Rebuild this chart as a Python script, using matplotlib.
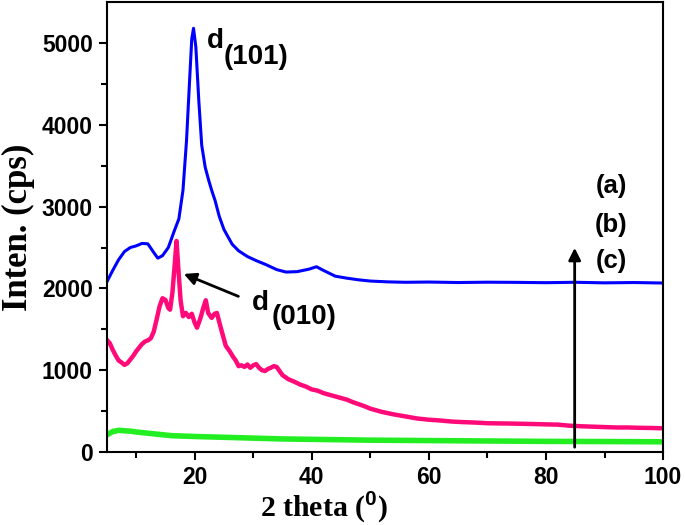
import matplotlib
matplotlib.use("Agg")
import matplotlib.pyplot as plt

# curve (a) - blue
xa = [5, 6, 7, 8, 9, 10, 11, 12, 13, 13.7, 14.5, 15.5, 16.5, 17.3, 18, 18.6, 19.1, 19.5, 19.8,
      20.2, 20.7, 21.2, 21.8, 22.4, 22.9, 23.5, 24.2, 25, 26.4, 27.5, 29, 30.5, 32.2, 34, 35.6,
      37.5, 39.5, 40.8, 42, 44, 46, 48, 50, 53, 56, 60, 65, 70, 75, 80, 85, 90, 95, 100]
ya = [2080, 2220, 2350, 2450, 2500, 2520, 2550, 2545, 2440, 2370, 2400, 2500, 2700, 2850, 3200,
      3800, 4500, 5050, 5180, 4950, 4300, 3750, 3480, 3320, 3200, 3070, 2880, 2720, 2540, 2460,
      2390, 2340, 2290, 2230, 2200, 2205, 2235, 2265, 2220, 2150, 2125, 2105, 2090, 2080, 2075,
      2078, 2072, 2076, 2074, 2070, 2075, 2068, 2072, 2066]

# curve (b) - pink
xb = [5, 5.5, 6, 6.5, 7, 7.5, 8, 8.5, 9, 9.5, 10, 10.5, 11, 11.5, 12, 12.5, 13, 13.5, 14, 14.5,
      15, 15.5, 15.8, 16.2, 16.6, 16.9, 17.2, 17.6, 18, 18.5, 19, 19.5, 20, 20.4, 21, 21.5, 21.9,
      22.3, 22.9, 23.4, 23.8, 24.3, 24.8, 25.3, 26, 26.5, 27, 27.5, 28, 28.5, 29, 29.5, 30, 30.5,
      31, 31.5, 32, 32.5, 33, 33.5, 34, 34.5, 35, 36, 37, 38, 39, 40, 41, 42, 43, 44, 45, 46, 47,
      48, 49, 50, 51, 52, 54, 56, 58, 60, 62, 64, 66, 68, 70, 72, 74, 76, 78, 80, 82, 84, 86, 88,
      90, 92, 94, 96, 98, 100]
yb = [1370, 1330, 1250, 1180, 1120, 1095, 1065, 1085, 1130, 1175, 1230, 1275, 1320, 1350, 1365,
      1390, 1470, 1620, 1780, 1880, 1860, 1760, 1740, 1950, 2300, 2580, 2250, 1850, 1660, 1700,
      1650, 1690, 1580, 1520, 1640, 1770, 1855, 1700, 1640, 1690, 1700, 1560, 1430, 1300, 1230,
      1170, 1120, 1050, 1060, 1040, 1070, 1030, 1060, 1075, 1030, 1000, 990, 1015, 1030, 1050,
      1040, 990, 940, 890, 860, 825, 800, 765, 750, 720, 700, 680, 660, 640, 610, 585, 560, 530,
      510, 490, 460, 435, 410, 395, 385, 372, 365, 360, 352, 350, 348, 345, 342, 338, 335, 322,
      315, 310, 305, 300, 300, 296, 294, 290]

# curve (c) - green
xc = [5, 6, 7, 8, 9, 10, 12, 14, 16, 20, 25, 30, 35, 40, 50, 60, 70, 80, 90, 100]
yc = [210, 250, 265, 260, 255, 245, 230, 215, 200, 190, 180, 170, 160, 155, 145, 140, 135, 130, 128, 125]

xticks = [20, 40, 60, 80, 100]
yticks = [0, 1000, 2000, 3000, 4000, 5000]

plt.rcParams["mathtext.fontset"] = "custom"
plt.rcParams["mathtext.bf"] = "Liberation Sans:bold"
plt.rcParams["mathtext.rm"] = "Liberation Sans:bold"

fig = plt.figure(figsize=(6.85, 5.25), dpi=100)
ax = fig.add_axes([0.156, 0.139, 0.812, 0.857])

ax.plot(xc, yc, color="#22ee22", lw=4)
ax.plot(xb, yb, color="#ff0a78", lw=3.2)
ax.plot(xa, ya, color="#0000ff", lw=2.2)

ax.set_xlim(5, 100)
ax.set_ylim(0, 5500)
ax.set_xticks(xticks)
ax.set_xticks([10, 30, 50, 70, 90], minor=True)
ax.set_yticks(yticks)
ax.set_yticks([500, 1500, 2500, 3500, 4500], minor=True)
ax.tick_params(which="both", direction="out", width=1.5, top=False, right=False)
ax.tick_params(which="major", length=6, pad=4)
ax.tick_params(which="minor", length=4)
for lab in ax.get_xticklabels() + ax.get_yticklabels():
    lab.set_family("Liberation Sans")
    lab.set_fontweight("bold")
    lab.set_fontsize(16.5)
for s in ax.spines.values():
    s.set_linewidth(1.5)

ax.set_ylabel("Inten. (cps)", family="Liberation Serif", fontweight="bold", fontsize=25)
ax.set_xlabel(r"2 theta ($^{0}$)", family="Liberation Serif", fontweight="bold", fontsize=21.5)
ax.xaxis.set_label_coords(0.39, -0.083)
ax.yaxis.set_label_coords(-0.13, 0.5)

sans = dict(family="Liberation Sans", fontweight="bold")
ax.text(22.0, 4943, "d", fontsize=20, va="baseline", ha="left", **sans)
ax.text(24.9, 4740, "(101)", fontsize=20, va="baseline", ha="left", **sans)
ax.text(29.8, 1733, "d", fontsize=20, va="baseline", ha="left", **sans)
ax.text(33.1, 1560, "(010)", fontsize=20, va="baseline", ha="left", **sans)
ax.annotate("", xy=(17.7, 2190), xytext=(27.9, 1890),
            arrowprops=dict(arrowstyle="-|>", color="black", lw=2, mutation_scale=18))
ax.annotate("", xy=(84.9, 2530), xytext=(84.9, 25),
            arrowprops=dict(arrowstyle="-|>", color="black", lw=2, mutation_scale=18))

for lab, yv in zip(["(a)", "(b)", "(c)"], [3258, 2780, 2330]):
    ax.text(91.1, yv, lab, fontsize=18.5, ha="center", va="center", **sans)

fig.savefig("out.png", dpi=100)
